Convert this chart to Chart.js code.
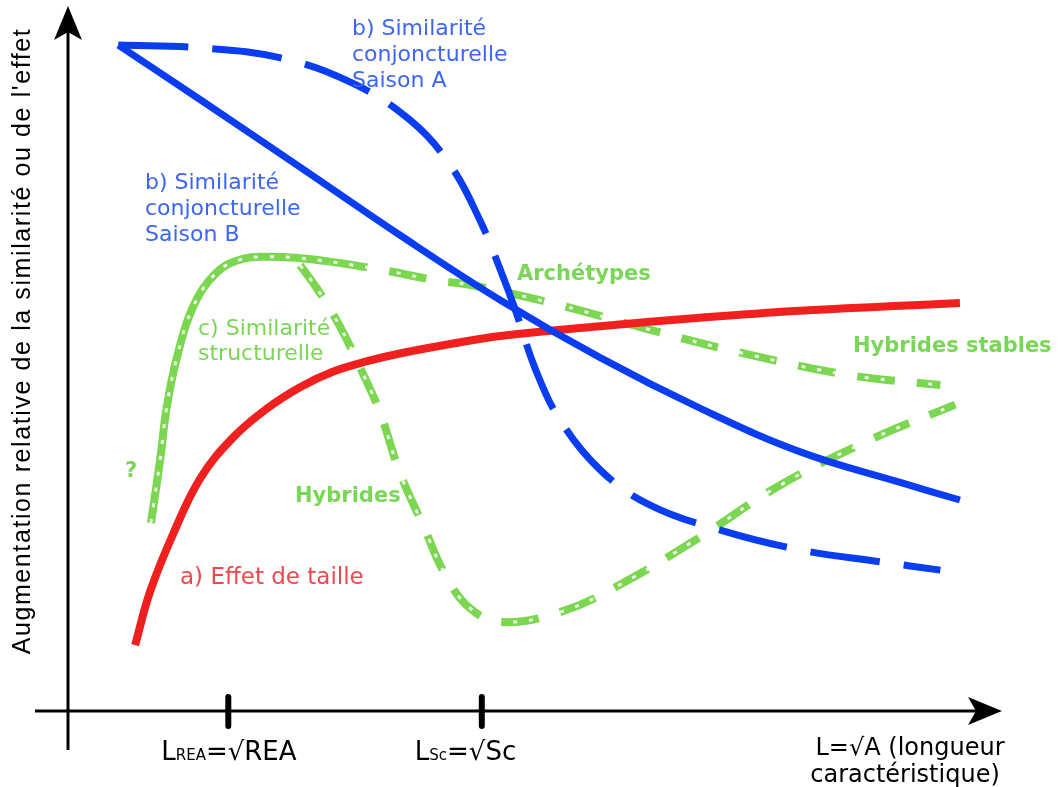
<!DOCTYPE html>
<html>
<head>
  <meta charset="UTF-8">
  <title>Similarité et effet de taille</title>
  <script src="https://cdn.jsdelivr.net/npm/chart.js@4.4.1/dist/chart.umd.min.js"></script>
  <style>
    body { margin: 0; background: #fff; }
  </style>
</head>
<body>
  <canvas id="chart" width="1060" height="787"></canvas>

  <script>
    // valeurs (unités arbitraires, 0..100)
    const saisonB_x = [5.4, 14.2, 24.9, 35.6, 46.4, 57.1, 67.8, 78.5, 89.3, 95.7];
    const saisonB_y = [95.0, 87.2, 77.6, 67.9, 58.6, 50.4, 43.2, 37.0, 32.6, 30.1];

    const saisonA_x = [5.4, 14.2, 22.7, 30.3, 36.7, 41.0, 44.2, 46.4, 48.0, 50.2, 52.8, 57.1, 62.4, 70.0, 78.5, 87.1, 93.6];
    const saisonA_y = [95.0, 94.6, 93.2, 89.7, 84.3, 77.9, 70.0, 62.9, 57.2, 48.6, 41.5, 34.4, 29.4, 25.8, 23.0, 21.3, 20.1];

    const taille_x = [7.2, 8.8, 11.2, 14.2, 17.7, 21.4, 24.9, 28.4, 32.1, 35.6, 42.1, 46.4, 57.1, 67.8, 78.5, 89.3, 95.7];
    const taille_y = [9.4, 17.0, 25.0, 33.2, 39.0, 43.2, 46.2, 48.4, 49.9, 51.0, 52.6, 53.5, 54.9, 56.1, 57.1, 57.8, 58.2];

    const structure_x = [8.9, 9.9, 10.6, 11.7, 13.4, 15.9, 18.5, 21.3, 24.9, 28.1, 34.2, 39.6, 43.1, 52.8, 62.4, 73.2, 83.9, 93.6];
    const structure_y = [26.8, 36.0, 43.4, 50.5, 57.6, 62.5, 64.4, 64.8, 64.6, 64.1, 62.8, 61.4, 60.8, 57.9, 54.4, 50.8, 47.9, 46.5];

    const hybrides_x = [24.9, 26.8, 29.2, 31.3, 33.5, 35.6, 38.1, 40.5, 43.1, 46.4, 52.8, 59.2, 67.8, 76.4, 86.1, 95.2];
    const hybrides_y = [63.6, 60.1, 54.8, 49.1, 42.5, 34.0, 26.5, 19.4, 14.7, 12.7, 14.1, 18.0, 24.8, 32.2, 38.7, 43.7];

    const xTicks = [17.2, 44.4];
    const tickMain = ["L", "L"];
    const tickSub = ["REA", "Sc"];
    const tickRoot = ["REA", "Sc"];

    const pts = (xs, ys) => xs.map((x, i) => ({ x: x, y: ys[i] }));

    const BLUE = "#0a3cf0";
    const BLUE_TXT = "#3d66f4";
    const RED = "#f0201e";
    const RED_TXT = "#ec4a4e";
    const GREEN = "#7bd650";
    const GREEN_TXT = "#7ad656";
    const FONT = "'DejaVu Sans', Verdana, sans-serif";

    const dashAfterPeak = ctx => (ctx.p0.parsed.x >= 27 ? [38, 22] : undefined);

    const decor = {
      id: "decor",
      beforeDatasetsDraw(chart) {
        const c = chart.ctx;
        const a = chart.chartArea;
        const xs = chart.scales.x;
        c.save();
        c.strokeStyle = "#000";
        c.fillStyle = "#000";
        c.lineWidth = 3;
        // axe vertical
        c.beginPath();
        c.moveTo(a.left, 750);
        c.lineTo(a.left, a.top + 20);
        c.stroke();
        c.beginPath();
        c.moveTo(a.left, a.top - 4);
        c.lineTo(a.left + 14, a.top + 30);
        c.lineTo(a.left, a.top + 22);
        c.lineTo(a.left - 14, a.top + 30);
        c.closePath();
        c.fill();
        // axe horizontal
        c.beginPath();
        c.moveTo(35, a.bottom);
        c.lineTo(a.right - 20, a.bottom);
        c.stroke();
        c.beginPath();
        c.moveTo(a.right + 2, a.bottom);
        c.lineTo(a.right - 32, a.bottom - 14);
        c.lineTo(a.right - 24, a.bottom);
        c.lineTo(a.right - 32, a.bottom + 14);
        c.closePath();
        c.fill();
        // graduations
        c.lineWidth = 6;
        c.lineCap = "round";
        xTicks.forEach(v => {
          const px = xs.getPixelForValue(v);
          c.beginPath();
          c.moveTo(px, a.bottom - 14);
          c.lineTo(px, a.bottom + 15);
          c.stroke();
        });
        c.restore();
      },
      afterDatasetsDraw(chart) {
        const c = chart.ctx;
        const xs = chart.scales.x;
        c.save();
        c.textBaseline = "middle";
        c.textAlign = "left";

        const lines = (txt, x, y, lh) => txt.forEach((t, i) => c.fillText(t, x, y + i * lh));

        c.fillStyle = BLUE_TXT;
        c.font = "22px " + FONT;
        lines(["b) Similarité", "conjoncturelle", "Saison A"], 352, 29, 26);
        lines(["b) Similarité", "conjoncturelle", "Saison B"], 145, 183, 26);

        c.fillStyle = GREEN_TXT;
        lines(["c) Similarité", "structurelle"], 198, 329, 25);
        c.font = "bold 21px " + FONT;
        c.fillText("Archétypes", 517, 275);
        c.fillText("Hybrides stables", 853, 347);
        c.fillText("Hybrides", 295, 497);
        c.fillText("?", 125, 472);

        c.fillStyle = RED_TXT;
        c.font = "23px " + FONT;
        c.fillText("a) Effet de taille", 180, 578);

        // titre de l'axe vertical
        c.fillStyle = "#000";
        c.save();
        c.translate(23, 341);
        c.rotate(-Math.PI / 2);
        c.textAlign = "center";
        c.font = "25px 'Liberation Sans', Arial, sans-serif";
        c.letterSpacing = "1.6px";
        c.fillText("Augmentation relative de la similarité ou de l'effet", 0, 0);
        c.restore();

        // étiquettes des graduations
        c.textBaseline = "alphabetic";
        xTicks.forEach((v, i) => {
          const px = xs.getPixelForValue(v);
          const big = "26px " + FONT, small = "15px " + FONT;
          let x = px - 67;
          c.font = big;
          c.fillText(tickMain[i], x, 760);
          x += c.measureText(tickMain[i]).width;
          c.font = small;
          c.fillText(tickSub[i], x, 760);
          x += c.measureText(tickSub[i]).width;
          c.font = big;
          c.fillText("=√" + tickRoot[i], x, 760);
        });
        c.textAlign = "center";
        c.font = "24px " + FONT;
        c.fillText("L=√A (longueur", 910, 755);
        c.fillText("caractéristique)", 905, 782);
        c.restore();
      }
    };

    new Chart(document.getElementById("chart"), {
      type: "line",
      data: {
        datasets: [
          { label: "b) Saison B", data: pts(saisonB_x, saisonB_y), borderColor: BLUE, borderWidth: 7, order: 1 },
          { label: "b) Saison A", data: pts(saisonA_x, saisonA_y), borderColor: BLUE, borderWidth: 7, borderDash: [70, 24], order: 1 },
          { label: "a) Effet de taille", data: pts(taille_x, taille_y), borderColor: RED, borderWidth: 8, order: 2 },
          { label: "c) Similarité structurelle", data: pts(structure_x, structure_y), borderColor: GREEN, borderWidth: 8,
            segment: { borderDash: dashAfterPeak }, order: 4 },
          { label: "Hybrides", data: pts(hybrides_x, hybrides_y), borderColor: GREEN, borderWidth: 8, borderDash: [38, 22], order: 4 },
          { label: "reflets 1", data: pts(structure_x, structure_y), borderColor: "rgba(255,255,255,0.85)", borderWidth: 3,
            borderDash: [4, 12], order: 3 },
          { label: "reflets 2", data: pts(hybrides_x, hybrides_y), borderColor: "rgba(255,255,255,0.85)", borderWidth: 3,
            borderDash: [4, 12], order: 3 }
        ]
      },
      options: {
        responsive: false,
        animation: false,
        devicePixelRatio: 1,
        layout: { padding: { left: 68, right: 60, top: 10, bottom: 76 } },
        elements: { point: { radius: 0 }, line: { tension: 0.4, borderCapStyle: "butt" } },
        scales: {
          x: { type: "linear", min: 0, max: 100, display: false },
          y: { min: 0, max: 100, display: false }
        },
        plugins: { legend: { display: false }, tooltip: { enabled: false } }
      },
      plugins: [decor]
    });
  </script>
</body>
</html>
